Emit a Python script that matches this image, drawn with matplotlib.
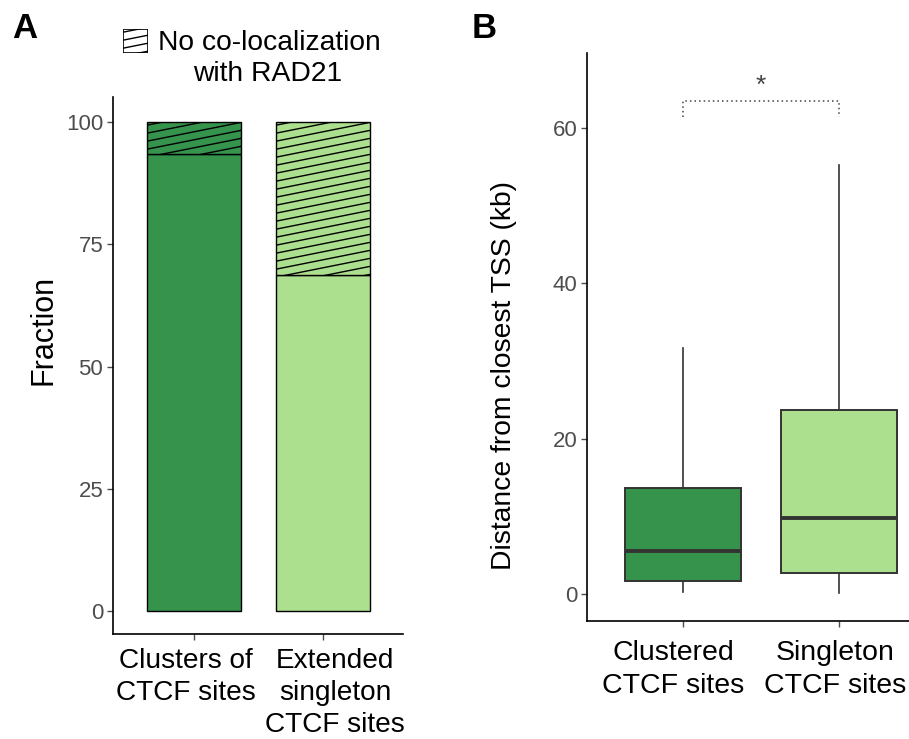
import matplotlib.pyplot as plt
import matplotlib.transforms as mtransforms
import numpy as np
from matplotlib.patches import Rectangle

plt.rcParams['font.family'] = ['Liberation Sans', 'DejaVu Sans']

# Panel A: fraction of sites co-localized with RAD21
bar_labels = ['Clusters of\nCTCF sites', 'Extended\nsingleton\nCTCF sites']
coloc = [93.5, 68.7]
no_coloc = [6.5, 31.3]

# Panel B: distance from closest TSS (kb), box stats
box_labels = ['Clustered\nCTCF sites', 'Singleton\nCTCF sites']
whislo = [0.2, 0.1]
q1 = [1.7, 2.7]
med = [5.5, 9.8]
q3 = [13.6, 23.7]
whishi = [31.7, 55.2]
sig_y = 63.5

colors = ['#35934b', '#acdf8e']
tick_gray = '#4d4d4d'

W, H = 909, 739
fig = plt.figure(figsize=(W / 100, H / 100), dpi=100)


def px_axes(l, t, r, b):
    return fig.add_axes([l / W, 1 - b / H, (r - l) / W, (b - t) / H])


def hatch_rect(ax, x0, x1, y0, y1, slope_px=0.2, spacing_px=8.0, lw=1.0):
    bb = ax.get_position()
    xl, yl = ax.get_xlim(), ax.get_ylim()
    sx = bb.width * W / (xl[1] - xl[0])
    sy = bb.height * H / (yl[1] - yl[0])
    m = slope_px * sx / sy
    step = spacing_px / sy
    clip = Rectangle((x0, y0), x1 - x0, y1 - y0, transform=ax.transData,
                     fill=False, edgecolor='none')
    ax.add_patch(clip)
    c = y1 - step * 0.4
    while c > y0 - m * (x1 - x0):
        ln, = ax.plot([x0, x1], [c, c + m * (x1 - x0)], color='black', lw=lw,
                      solid_capstyle='butt')
        ln.set_clip_path(clip)
        c -= step


def style_axes(ax):
    for s in ['top', 'right']:
        ax.spines[s].set_visible(False)
    for s in ['left', 'bottom']:
        ax.spines[s].set_linewidth(1.2)
    ax.tick_params(axis='both', length=4, width=1, color=tick_gray)
    ax.tick_params(axis='y', labelsize=16, labelcolor=tick_gray, pad=3)
    ax.tick_params(axis='x', labelsize=20.5, labelcolor='black', pad=8)


def shift_labels(ax, offsets_px):
    for lab, dx in zip(ax.get_xticklabels(), offsets_px):
        off = mtransforms.ScaledTranslation(dx / 100, 0, fig.dpi_scale_trans)
        lab.set_transform(lab.get_transform() + off)


# ---- Panel A ----
axA = px_axes(113, 97, 403, 634)
axA.set_xlim(0.372, 2.62)
axA.set_ylim(-4.70, 105.11)
xpos = np.arange(1, len(bar_labels) + 1)
bw = 0.729
axA.bar(xpos, coloc, width=bw, color=colors, edgecolor='black', linewidth=1)
axA.bar(xpos, no_coloc, bottom=coloc, width=bw, color=colors,
        edgecolor='black', linewidth=1)
for x, b, h in zip(xpos, coloc, no_coloc):
    hatch_rect(axA, x - bw / 2, x + bw / 2, b, b + h)
axA.set_yticks([0, 25, 50, 75, 100])
axA.set_xticks(xpos)
axA.set_xticklabels(bar_labels, linespacing=1.3)
style_axes(axA)
axA.tick_params(axis='x', labelsize=20.2, pad=6)
shift_labels(axA, [-8, 12])
fig.text(43.5 / W, 1 - 330 / H, 'Fraction', rotation=90, ha='center',
         va='center', fontsize=22)

# legend key + title
axK = px_axes(123, 29, 148, 53)
axK.set_xlim(0, 1)
axK.set_ylim(0, 1)
axK.axis('off')
axK.add_patch(Rectangle((0, 0), 1, 1, facecolor='white', edgecolor='black',
                        lw=1.2))
hatch_rect(axK, 0, 1, 0, 1, slope_px=0.2, spacing_px=8.0)
fig.text(158 / W, 1 - 43 / H, 'No co-localization', ha='left', va='center',
         fontsize=20.3)
fig.text(268 / W, 1 - 74 / H, 'with RAD21', ha='center', va='center',
         fontsize=20.3)

# ---- Panel B ----
axB = px_axes(587, 53, 909, 621)
axB.set_xlim(0.385, 2.449)
axB.set_ylim(-3.48, 69.66)
stats = []
for i in range(len(box_labels)):
    stats.append(dict(whislo=whislo[i], q1=q1[i], med=med[i], q3=q3[i],
                      whishi=whishi[i], fliers=[]))
bp = axB.bxp(stats, positions=[1, 2], widths=0.744, patch_artist=True,
             showcaps=False, showfliers=False,
             boxprops=dict(edgecolor='#333333', linewidth=1.4),
             whiskerprops=dict(color='#333333', linewidth=1.2),
             medianprops=dict(color='#333333', linewidth=2.8,
                              solid_capstyle='butt'))
for patch, c in zip(bp['boxes'], colors):
    patch.set_facecolor(c)
axB.set_yticks([0, 20, 40, 60])
axB.set_xticks([1, 2])
axB.set_xticklabels(box_labels, linespacing=1.33)
style_axes(axB)
axB.tick_params(axis='x', pad=10)
shift_labels(axB, [-10, -4])
fig.text(504 / W, 1 - 375 / H, 'Distance from closest TSS (kb)', rotation=90,
         ha='center', va='center', fontsize=20.3)

# significance bracket
axB.plot([1, 1, 2, 2], [sig_y - 2.1, sig_y, sig_y, sig_y - 2.1], color='#444444',
         lw=1.1, linestyle=(0, (1, 2)))
axB.text(1.5, sig_y + 1.9, '*', ha='center', va='center', fontsize=19,
         color='#444444')

fig.text(12 / W, 1 - 28 / H, 'A', fontsize=25, fontweight='bold', va='center')
fig.text(472 / W, 1 - 28 / H, 'B', fontsize=25, fontweight='bold', va='center')

fig.savefig('out.png', dpi=100)
